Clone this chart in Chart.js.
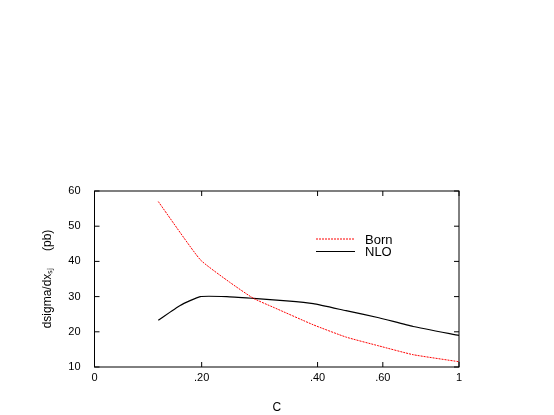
<!DOCTYPE html>
<html>
<head>
<meta charset="UTF-8">
<script src="https://cdn.jsdelivr.net/npm/chart.js@4.4.0/dist/chart.umd.min.js"></script>
<style>
  body { margin: 0; background: #fff; }
  #wrap { width: 554px; height: 415px; }
</style>
</head>
<body>
<div id="wrap"><canvas id="c"></canvas></div>
<script>
// x positions are fractions of the (non-linear) C axis
const bornX = [0.175, 0.29, 0.372, 0.436, 0.49, 0.6, 0.69, 0.78, 0.874, 1.0];
const bornY = [57, 40.5, 34, 29.5, 27, 22, 18.5, 16, 13.5, 11.5];
const nloX = [0.175, 0.235, 0.29, 0.363, 0.436, 0.527, 0.6, 0.69, 0.78, 0.874, 1.0];
const nloY = [23.3, 27.5, 30, 30, 29.5, 28.8, 28, 26, 24, 21.5, 19];
const xTickPos = [0, 0.294, 0.612, 0.791, 1];
const xTickLabels = ['0', '.20', '.40', '.60', '1'];
const yTicks = [10, 20, 30, 40, 50, 60];

const font = { family: 'Liberation Sans, Arial, sans-serif', size: 11 };

const extras = {
  id: 'extras',
  afterDraw(chart) {
    const { ctx, chartArea: a, scales } = chart;
    ctx.save();
    ctx.strokeStyle = '#000';
    ctx.lineWidth = 1;
    ctx.strokeRect(a.left, a.top, a.right - a.left, a.bottom - a.top);
    ctx.beginPath();
    xTickPos.forEach(v => {
      const px = scales.x.getPixelForValue(v);
      ctx.moveTo(px, a.bottom); ctx.lineTo(px, a.bottom - 5);
      ctx.moveTo(px, a.top); ctx.lineTo(px, a.top + 5);
    });
    yTicks.forEach(v => {
      const py = scales.y.getPixelForValue(v);
      ctx.moveTo(a.left, py); ctx.lineTo(a.left + 5, py);
      ctx.moveTo(a.right, py); ctx.lineTo(a.right - 5, py);
    });
    ctx.stroke();
    // legend
    ctx.font = '13px Liberation Sans, Arial, sans-serif';
    ctx.textBaseline = 'middle';
    ctx.fillStyle = '#000';
    ctx.strokeStyle = '#ff0000';
    ctx.setLineDash([2, 1]);
    ctx.beginPath(); ctx.moveTo(316, 239); ctx.lineTo(355, 239); ctx.stroke();
    ctx.setLineDash([]);
    ctx.strokeStyle = '#000';
    ctx.beginPath(); ctx.moveTo(316, 251.5); ctx.lineTo(355, 251.5); ctx.stroke();
    ctx.fillText('Born', 365, 240);
    ctx.fillText('NLO', 365, 252);
    // y title
    ctx.font = '12px Liberation Sans, Arial, sans-serif';
    ctx.translate(48, 279);
    ctx.rotate(-Math.PI / 2);
    ctx.textAlign = 'center';
    ctx.fillText('dsigma/dx\u209B\u2C7C     (pb)', 0, 0);
    ctx.restore();
  }
};

new Chart(document.getElementById('c'), {
  type: 'scatter',
  data: {
    datasets: [
      { label: 'Born', data: bornX.map((x, i) => ({ x, y: bornY[i] })), showLine: true,
        borderColor: '#ff0000', borderWidth: 1, borderDash: [2, 1], pointRadius: 0, tension: 0.15 },
      { label: 'NLO', data: nloX.map((x, i) => ({ x, y: nloY[i] })), showLine: true,
        borderColor: '#000', borderWidth: 1.2, pointRadius: 0, tension: 0.15 }
    ]
  },
  options: {
    responsive: true, maintainAspectRatio: false, animation: false,
    layout: { padding: { left: 34.5, right: 95, top: 191, bottom: 0 } },
    plugins: { legend: { display: false }, tooltip: { enabled: false } },
    scales: {
      x: {
        min: 0, max: 1,
        afterFit(s) { s.height = 48; },
        afterBuildTicks(s) { s.ticks = xTickPos.map(v => ({ value: v })); },
        grid: { display: false }, border: { display: false },
        ticks: { font, color: '#000', padding: -4, maxRotation: 0,
          callback: (v) => xTickLabels[xTickPos.indexOf(v)] },
        title: { display: true, text: 'C', font: { family: font.family, size: 12 }, color: '#000', padding: { top: -3, bottom: 0 } }
      },
      y: {
        min: 10, max: 60,
        afterFit(s) { s.width = 60; },
        afterBuildTicks(s) { s.ticks = yTicks.map(v => ({ value: v })); },
        grid: { display: false }, border: { display: false },
        ticks: { font, color: '#000', padding: 6 }
      }
    }
  },
  plugins: [extras]
});
</script>
</body>
</html>
